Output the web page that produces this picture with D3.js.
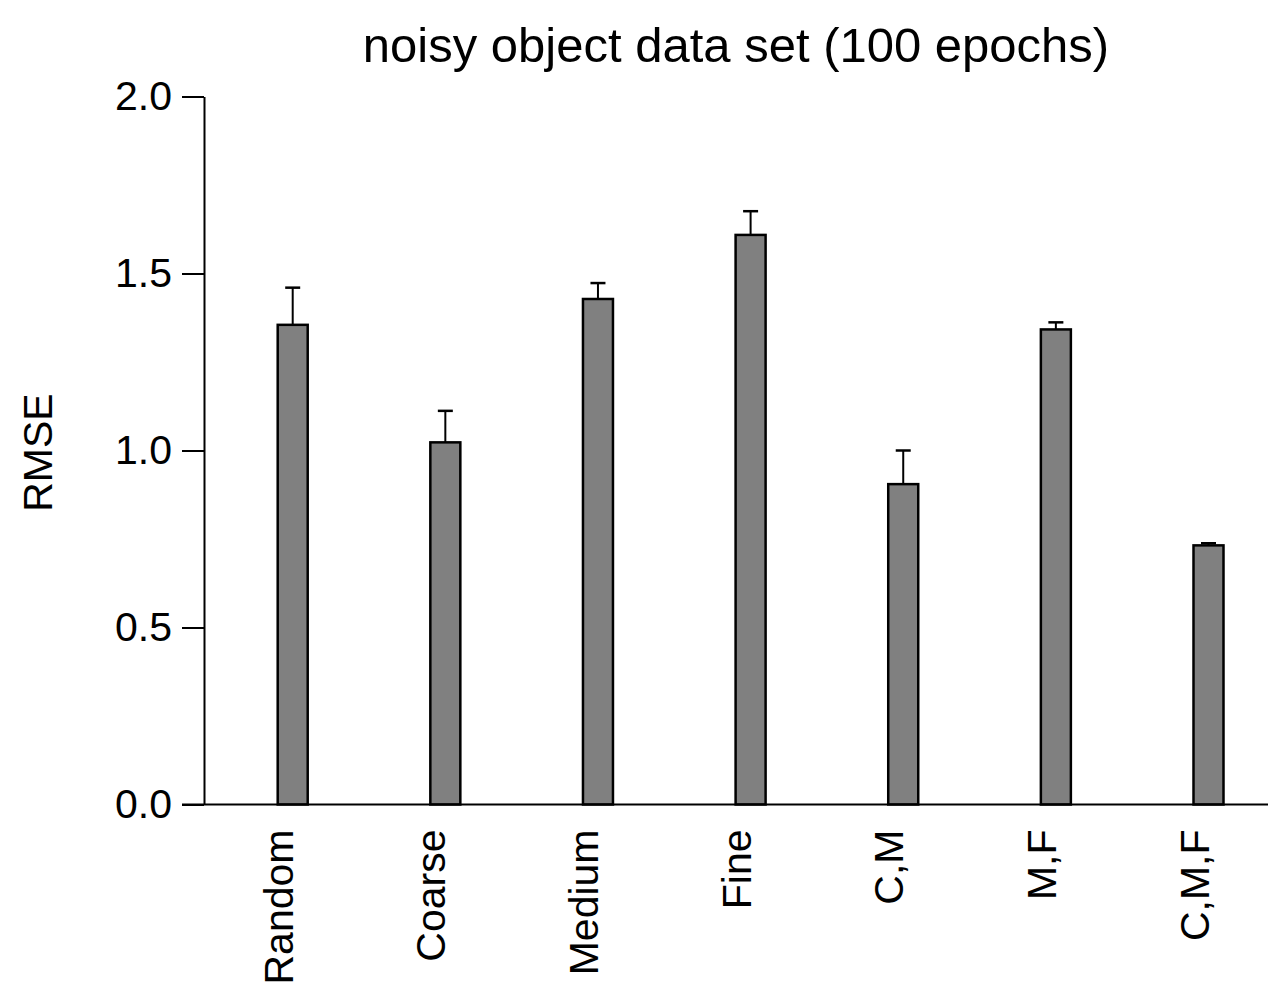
<!DOCTYPE html>
<html>
<head>
<meta charset="utf-8">
<script src="https://cdn.jsdelivr.net/npm/d3@7"></script>
<style>
  html, body { margin: 0; padding: 0; background: #fff; }
  text { font-family: "Liberation Sans", Arial, sans-serif; fill: #000; }
</style>
</head>
<body>
<svg id="chart" width="1268" height="987"></svg>
<script>
const categories = ['Random', 'Coarse', 'Medium', 'Fine', 'C,M', 'M,F', 'C,M,F'];
const rmse = [1.355, 1.023, 1.428, 1.609, 0.905, 1.342, 0.732];
const rmseErr = [0.105, 0.089, 0.045, 0.067, 0.095, 0.020, 0.006];
const yTicks = [0, 0.5, 1.0, 1.5, 2.0];

const AXIS_X = 204;
const BASE_Y = 804.5;
const TOP_Y = 96.5;
const RIGHT = 1268;
const BAR_W = 30;
const CAP_W = 15;

const svg = d3.select('#chart');

const y = d3.scaleLinear().domain([0, 2]).range([BASE_Y, TOP_Y]);
const x = d3.scalePoint().domain(categories).range([292.7, 1208.5]);

// y axis
const yAxis = d3.axisLeft(y)
    .tickValues(yTicks)
    .tickFormat(d3.format('.1f'))
    .tickSize(22)
    .tickPadding(10)
    .tickSizeOuter(0);

const gy = svg.append('g')
    .attr('transform', `translate(${AXIS_X},0)`)
    .call(yAxis);
gy.select('.domain').attr('stroke', '#000').attr('stroke-width', 2);
gy.selectAll('.tick line').attr('stroke', '#000').attr('stroke-width', 2);
gy.selectAll('.tick text')
    .attr('font-family', '"Liberation Sans", Arial, sans-serif')
    .attr('font-size', 41)
    .attr('fill', '#000');

// error bars (drawn before bars so the bar outline sits on top)
const errs = svg.append('g');
errs.selectAll('line.stem')
    .data(categories)
    .join('line')
    .attr('class', 'stem')
    .attr('x1', d => x(d))
    .attr('x2', d => x(d))
    .attr('y1', (d, i) => y(rmse[i]))
    .attr('y2', (d, i) => y(rmse[i] + rmseErr[i]))
    .attr('stroke', '#000')
    .attr('stroke-width', 2);
errs.selectAll('line.cap')
    .data(categories)
    .join('line')
    .attr('class', 'cap')
    .attr('x1', d => x(d) - CAP_W / 2)
    .attr('x2', d => x(d) + CAP_W / 2)
    .attr('y1', (d, i) => y(rmse[i] + rmseErr[i]))
    .attr('y2', (d, i) => y(rmse[i] + rmseErr[i]))
    .attr('stroke', '#000')
    .attr('stroke-width', 2.5);

// bars
svg.append('g')
    .selectAll('rect')
    .data(categories)
    .join('rect')
    .attr('x', d => x(d) - BAR_W / 2)
    .attr('width', BAR_W)
    .attr('y', (d, i) => y(rmse[i]))
    .attr('height', (d, i) => BASE_Y - y(rmse[i]))
    .attr('fill', '#808080')
    .attr('stroke', '#000')
    .attr('stroke-width', 2.5);

// baseline
svg.append('line')
    .attr('x1', AXIS_X - 22)
    .attr('x2', RIGHT)
    .attr('y1', BASE_Y)
    .attr('y2', BASE_Y)
    .attr('stroke', '#000')
    .attr('stroke-width', 2);

// category labels, rotated
svg.append('g')
    .selectAll('text')
    .data(categories)
    .join('text')
    .attr('transform', d => `translate(${x(d)},${BASE_Y + 25}) rotate(-90)`)
    .attr('text-anchor', 'end')
    .attr('font-size', 41)
    .text(d => d);

// y label
svg.append('text')
    .attr('transform', `translate(52,${(BASE_Y + TOP_Y) / 2 + 2}) rotate(-90)`)
    .attr('text-anchor', 'middle')
    .attr('font-size', 41)
    .text('RMSE');

// title
svg.append('text')
    .attr('x', (AXIS_X + RIGHT) / 2)
    .attr('y', 62)
    .attr('text-anchor', 'middle')
    .attr('font-size', 49)
    .text('noisy object data set (100 epochs)');
</script>
</body>
</html>
